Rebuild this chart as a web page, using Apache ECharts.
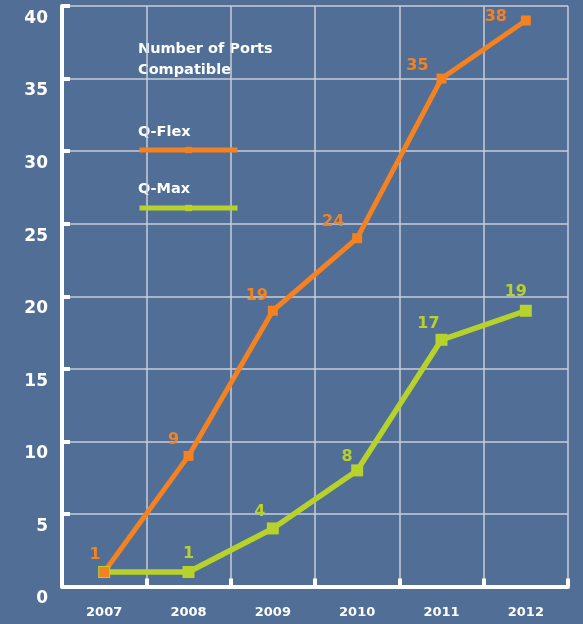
<!DOCTYPE html>
<html>
<head>
<meta charset="utf-8">
<script src="https://cdn.jsdelivr.net/npm/echarts@6/dist/echarts.min.js"></script>
<style>
  html, body { margin: 0; padding: 0; background: #516e96; }
  #chart { width: 583px; height: 624px; }
</style>
</head>
<body>
<div id="chart"></div>
<script>
// data
const years = ['2007', '2008', '2009', '2010', '2011', '2012'];
const qFlex = [1, 9, 19, 24, 35, 39];          // plotted positions
const qFlexLabels = ['1', '9', '19', '24', '35', '38'];  // printed values
const qMax = [1, 1, 4, 8, 17, 19];
const qMaxLabels = ['', '1', '4', '8', '17', '19'];
const yMin = 0, yMax = 40, yStep = 5;

// label nudges (px from point centre)
const flexShift = [[-9, -17], [-15, -16], [-16, -15], [-24, -16], [-24, -13], [-30, -4]];
const maxShift = [[0, 0], [0, -18], [-13, -17], [-10, -14], [-13, -16], [-10, -19]];

const ORANGE = '#f58220';
const GREEN = '#b8d22c';
const GRIDC = '#c9ced8';
const FONT = 'DejaVu Sans';

var myChart = echarts.init(document.getElementById('chart'));

function points(vals, labels, shift) {
    return vals.map(function (v, i) {
        return {
            value: v,
            label: { offset: shift[i], formatter: labels[i] }
        };
    });
}

function legendFor(name, top) {
    return {
        data: [name],
        left: 137, top: top,
        padding: 0,
        itemWidth: 98, itemHeight: 8,
        lineStyle: { width: 5 },
        formatter: function () { return ''; },
        selectedMode: false
    };
}

let option = {
    backgroundColor: '#516e96',
    animation: false,
    grid: { left: 62, right: 15, top: 6, bottom: 37.5 },
    legend: [legendFor('Q-Flex', 146), legendFor('Q-Max', 204)],
    graphic: [
        {
            type: 'text', left: 138, top: 39,
            style: { text: 'Number of Ports\nCompatible', fill: '#fff', font: 'bold 14.5px ' + FONT, lineHeight: 21 }
        },
        {
            type: 'text', left: 138, top: 125,
            style: { text: 'Q-Flex', fill: '#fff', font: 'bold 14.5px ' + FONT }
        },
        {
            type: 'text', left: 138, top: 182,
            style: { text: 'Q-Max', fill: '#fff', font: 'bold 14.5px ' + FONT }
        }
    ],
    xAxis: {
        type: 'category',
        data: years,
        boundaryGap: true,
        axisLine: { show: true, lineStyle: { color: '#fff', width: 4 } },
        axisTick: { show: true, inside: true, length: 8, lineStyle: { color: '#fff', width: 4 } },
        splitLine: { show: true, lineStyle: { color: GRIDC, width: 1.5 } },
        axisLabel: { color: '#fff', fontWeight: 'bold', fontSize: 13, fontFamily: FONT, margin: 20 }
    },
    yAxis: {
        type: 'value',
        min: yMin, max: yMax, interval: yStep,
        axisLine: { show: true, lineStyle: { color: '#fff', width: 4 } },
        axisTick: { show: true, inside: true, length: 8, lineStyle: { color: '#fff', width: 4 } },
        splitLine: { show: true, lineStyle: { color: GRIDC, width: 1.5 } },
        axisLabel: {
            color: '#fff', fontWeight: 'bold', fontSize: 17, fontFamily: FONT,
            margin: 14, verticalAlign: 'top', padding: [4, 0, 0, 0]
        }
    },
    series: [
        {
            name: 'Q-Max',
            type: 'line',
            data: points(qMax, qMaxLabels, maxShift),
            symbol: 'rect',
            symbolSize: 12,
            lineStyle: { color: GREEN, width: 5.5 },
            itemStyle: { color: GREEN },
            label: {
                show: true, position: 'inside',
                color: GREEN, fontWeight: 'bold', fontSize: 16, fontFamily: FONT
            }
        },
        {
            name: 'Q-Flex',
            type: 'line',
            data: points(qFlex, qFlexLabels, flexShift),
            symbol: 'rect',
            symbolSize: 10,
            lineStyle: { color: ORANGE, width: 5 },
            itemStyle: { color: ORANGE },
            label: {
                show: true, position: 'inside',
                color: ORANGE, fontWeight: 'bold', fontSize: 16, fontFamily: FONT
            }
        }
    ]
};
option && myChart.setOption(option);
</script>
</body>
</html>
